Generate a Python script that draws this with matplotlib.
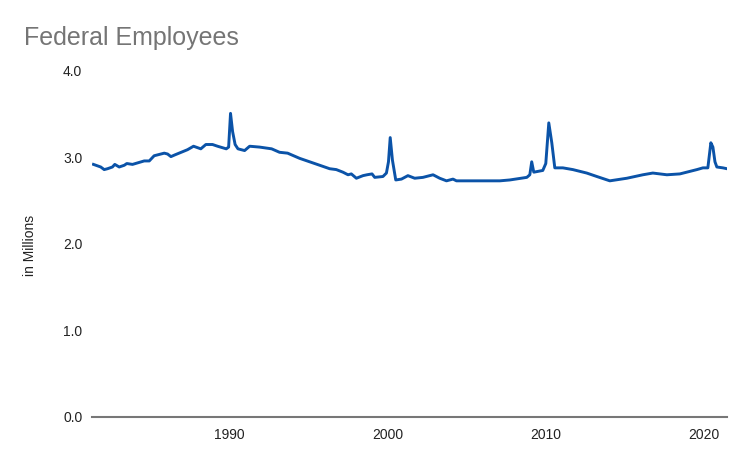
import matplotlib
matplotlib.use("Agg")
import matplotlib.pyplot as plt

# points (decimal year, millions of employees)
years = [1981.39, 1981.85, 1982.07, 1982.28, 1982.59, 1982.74, 1983.02, 1983.34,
         1983.50, 1983.86, 1984.60, 1984.92, 1985.23, 1985.87, 1986.08, 1986.29,
         1986.54, 1987.34, 1987.72, 1988.18, 1988.50, 1988.92, 1989.24, 1989.79,
         1989.94, 1990.06, 1990.19, 1990.35, 1990.53, 1990.95, 1991.27, 1991.90,
         1992.66, 1993.16, 1993.67, 1994.43, 1995.70, 1996.33, 1996.75, 1997.17,
         1997.49, 1997.70, 1998.02, 1998.44, 1998.69, 1999.01, 1999.18, 1999.70,
         1999.92, 2000.05, 2000.16, 2000.30, 2000.51, 2000.87, 2001.28, 2001.71,
         2002.23, 2002.87, 2003.29, 2003.72, 2004.13, 2004.35, 2005.19, 2005.82,
         2007.09, 2007.72, 2008.80, 2008.99, 2009.11, 2009.24, 2009.81, 2010.00,
         2010.19, 2010.38, 2010.57, 2011.08, 2011.71, 2012.59, 2013.23, 2014.05,
         2015.13, 2016.14, 2016.77, 2017.66, 2018.48, 2019.56, 2019.94, 2020.25,
         2020.44, 2020.57, 2020.70, 2020.82, 2021.20, 2021.46]
employees = [2.92, 2.89, 2.86, 2.87, 2.89, 2.92, 2.89, 2.91,
             2.93, 2.92, 2.96, 2.96, 3.02, 3.05, 3.04, 3.01,
             3.03, 3.09, 3.13, 3.10, 3.15, 3.15, 3.13, 3.10,
             3.12, 3.51, 3.30, 3.15, 3.10, 3.08, 3.13, 3.12,
             3.10, 3.06, 3.05, 2.99, 2.91, 2.87, 2.86, 2.83,
             2.80, 2.81, 2.76, 2.79, 2.80, 2.81, 2.77, 2.78,
             2.82, 2.95, 3.23, 2.97, 2.74, 2.75, 2.79, 2.76,
             2.77, 2.80, 2.76, 2.73, 2.75, 2.73, 2.73, 2.73,
             2.73, 2.74, 2.77, 2.80, 2.95, 2.83, 2.85, 2.93,
             3.40, 3.17, 2.88, 2.88, 2.86, 2.82, 2.78, 2.73,
             2.76, 2.80, 2.82, 2.80, 2.81, 2.86, 2.88, 2.88,
             3.17, 3.12, 2.95, 2.89, 2.88, 2.87]

y_ticks = [0, 1, 2, 3, 4]
y_ticklabels = ["0.0", "1.0", "2.0", "3.0", "4.0"]
x_ticks = [1990, 2000, 2010, 2020]

plt.rcParams['font.family'] = ['Liberation Sans', 'DejaVu Sans']

fig = plt.figure(figsize=(7.5, 4.63), dpi=100)
ax = fig.add_axes([0.1227, 0.0994, 0.8466, 0.7473])

ax.plot(years, employees, color='#0b53a8', linewidth=2.1, solid_joinstyle='round')

ax.set_xlim(1981.3, 2021.46)
ax.set_ylim(0, 4)
ax.set_yticks(y_ticks)
ax.set_yticklabels(y_ticklabels)
ax.set_xticks(x_ticks)
ax.set_xticklabels([str(x) for x in x_ticks])
ax.tick_params(axis='both', length=0, labelsize=10, colors='#222222')
ax.tick_params(axis='y', pad=7)
ax.tick_params(axis='x', pad=8)

for s in ['top', 'right', 'left']:
    ax.spines[s].set_visible(False)
ax.spines['bottom'].set_color('#777777')
ax.spines['bottom'].set_linewidth(1.5)

fig.text(24 / 750, 1 - 45 / 463, "Federal Employees", fontsize=18,
         color='#757575', va='baseline', ha='left')
fig.text(30 / 750, 1 - 245 / 463, "in Millions", fontsize=10, rotation=90,
         va='center', ha='center', color='#222222')

fig.savefig("out.png", dpi=100)
